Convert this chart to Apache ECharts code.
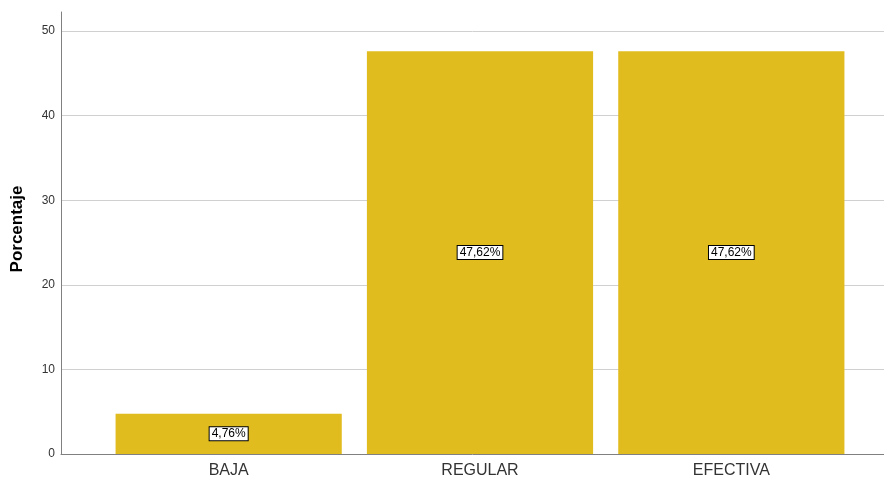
<!DOCTYPE html>
<html>
<head>
<meta charset="utf-8">
<script src="https://cdn.jsdelivr.net/npm/echarts@6/dist/echarts.min.js"></script>
<style>
html,body{margin:0;padding:0;background:#fff;}
#chart{width:884px;height:480px;}
</style>
</head>
<body>
<div id="chart"></div>
<script>
var categories = ['BAJA', 'REGULAR', 'EFECTIVA'];
var values = [4.76, 47.62, 47.62];
var yTicks = [0, 10, 20, 30, 40, 50];

var chart = echarts.init(document.getElementById('chart'), null, {renderer: 'canvas'});
var font = '"Liberation Sans", Arial, sans-serif';
var yMax = 52.25;
chart.setOption({
  animation: false,
  grid: [
    {left: 61, right: 0, top: 12, bottom: 26},
    {left: 103, right: 27, top: 12, bottom: 26}
  ],
  xAxis: [
    {gridIndex: 0, type: 'value', min: 0, max: 1, axisLabel: {show: false}, axisTick: {show: false},
     splitLine: {show: false}, axisLine: {show: true, lineStyle: {color: '#808080', width: 1}}},
    {gridIndex: 1, type: 'category', data: categories, axisLine: {show: false}, axisTick: {show: false},
     axisLabel: {color: '#333', fontFamily: font, fontSize: 16, margin: 9}}
  ],
  yAxis: [
    {gridIndex: 0, type: 'value', min: 0, max: yMax, interval: 10,
     name: 'Porcentaje', nameLocation: 'middle', nameGap: 35,
     nameTextStyle: {fontFamily: font, fontSize: 17, fontWeight: 'bold', color: '#000', padding: [0, 0, 0, 8]},
     axisLine: {show: true, lineStyle: {color: '#808080', width: 1}},
     axisTick: {show: false},
     axisLabel: {fontFamily: font, fontSize: 12, color: '#333', margin: 6, showMaxLabel: false,
       formatter: function (v) { return yTicks.indexOf(v) >= 0 ? String(v) : ''; }},
     splitLine: {show: true, showMinLine: false, showMaxLine: false, lineStyle: {color: '#d0d0d0', width: 1}}},
    {gridIndex: 1, type: 'value', min: 0, max: yMax, interval: 10, show: false, splitLine: {show: false}}
  ],
  series: [{
    type: 'bar', xAxisIndex: 1, yAxisIndex: 1,
    data: values,
    barCategoryGap: '10%',
    itemStyle: {color: '#E0BC1E'},
    label: {
      show: true, position: 'inside',
      formatter: function (p) { return p.value.toFixed(2).replace('.', ',') + '%'; },
      fontFamily: font, fontSize: 12, color: '#000',
      backgroundColor: '#fff', borderColor: '#000', borderWidth: 1, padding: [1, 2, 0, 2]
    }
  }]
});
</script>
</body>
</html>
